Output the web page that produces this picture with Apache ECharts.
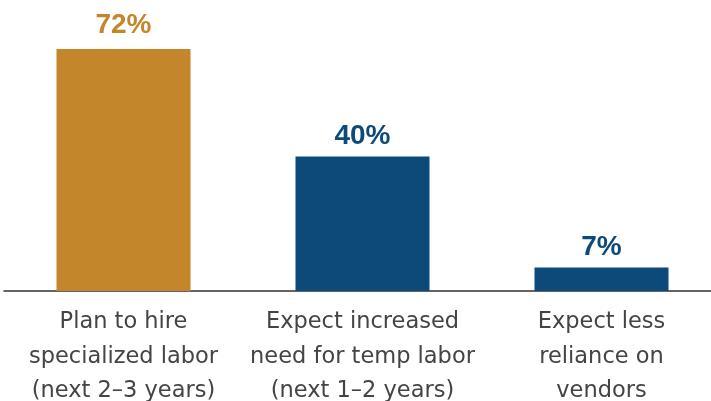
<!DOCTYPE html>
<html><head><meta charset="utf-8">
<script src="https://cdn.jsdelivr.net/npm/echarts@6/dist/echarts.min.js"></script>
<style>html,body{margin:0;padding:0;background:#fff}#c{width:711px;height:401px}</style>
</head><body><div id="c"></div>
<script>
const categories = ["Plan to hire\nspecialized labor\n(next 2\u20133 years)", "Expect increased\nneed for temp labor\n(next 1\u20132 years)", "Expect less\nreliance on\nvendors"];
const values = [72, 40, 7];
const barColors = ["#C4862B", "#0D4A7A", "#0D4A7A"];
const labelGaps = [10, 6, 6];

const chart = echarts.init(document.getElementById('c'), null, {renderer: 'canvas'});
chart.setOption({
  animation: false,
  grid: {left: 4, right: -10, top: 22, bottom: 110, containLabel: false, outerBoundsMode: 'none'},
  xAxis: {
    type: 'category', data: categories,
    axisLine: {lineStyle: {color: '#333', width: 1.5}},
    axisTick: {show: false},
    axisLabel: {color: '#444', fontFamily: 'DejaVu Sans', fontSize: 22.5, lineHeight: 34.5, margin: 14, interval: 0, hideOverlap: false}
  },
  yAxis: {type: 'value', min: 0, max: 80, show: false, splitLine: {show: false}},
  series: [{
    type: 'bar', barWidth: 134,
    data: values.map((v, i) => ({value: v, itemStyle: {color: barColors[i]}, label: {color: barColors[i], distance: labelGaps[i]}})),
    label: {show: true, position: 'top', formatter: '{c}%', fontFamily: 'Liberation Sans', fontWeight: 'bold', fontSize: 28}
  }]
});
</script></body></html>
